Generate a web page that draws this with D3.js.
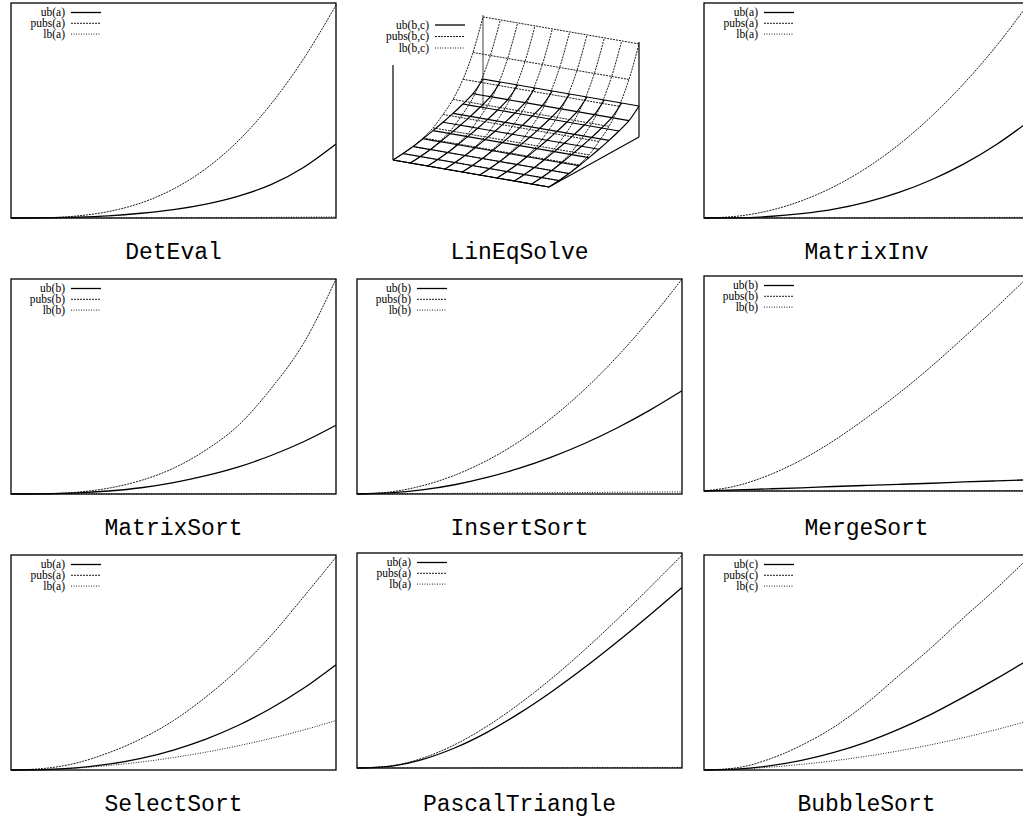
<!DOCTYPE html>
<html lang="en">
<head>
<meta charset="UTF-8">
<title>Cost bounds</title>
<script src="https://d3js.org/d3.v7.min.js"></script>
<style>
  body { margin: 0; background: #fff; }
  svg { display: block; }
  .title { font-family: "Liberation Mono", monospace; font-size: 23px; fill: #000; }
  .legend text { font-family: "Liberation Serif", serif; font-size: 11.5px; fill: #000; }
</style>
</head>
<body>
<svg width="1023" height="819"></svg>
<script>
// input sizes (x axis), same for every 2d panel
const sizes = [0, 1, 2, 3, 4, 5, 6, 7, 8, 9, 10];

// values in percent of each panel's y range
const detEvalUb   = [0, 0.1, 0.4, 1.0, 2.2, 3.9, 6.5, 10.2, 15.5, 23.5, 34.4];
const detEvalPubs = [0, 0.1, 0.9, 3.0, 7.0, 13.5, 23, 36, 53, 74, 99];
const detEvalLb   = [0, 0, 0, 0, 0.1, 0.1, 0.2, 0.2, 0.3, 0.4, 0.5];

const matrixInvUb   = [0, 0.1, 0.7, 2.0, 4.1, 7.4, 11.9, 17.8, 25.2, 34.2, 45];
const matrixInvPubs = [0, 0.8, 3.4, 8, 14.6, 23.3, 34.2, 47.3, 62.6, 80.1, 100];
const matrixInvLb   = [0, 0, 0, 0, 0.1, 0.1, 0.1, 0.2, 0.2, 0.3, 0.3];

const matrixSortUb   = [0, 0.1, 0.5, 1.4, 2.9, 5.3, 8.5, 12.6, 17.9, 24.3, 32];
const matrixSortPubs = [0, 0.1, 0.8, 2.7, 6.3, 12, 20.5, 32, 49, 70, 100];
const matrixSortLb   = [0, 0, 0, 0, 0, 0.1, 0.1, 0.1, 0.2, 0.2, 0.2];

const insertSortUb   = [0, 0.5, 1.9, 4.3, 7.7, 12, 17.3, 23.5, 30.7, 38.9, 48];
const insertSortPubs = [0, 0.9, 3.8, 8.7, 15.6, 24.5, 35.5, 48.6, 63.8, 81, 100];
const insertSortLb   = [0, 0.1, 0.2, 0.3, 0.4, 0.5, 0.6, 0.7, 0.8, 0.9, 1.0];

const mergeSortUb   = [0, 0.5, 1, 1.5, 2.1, 2.6, 3.1, 3.6, 4.2, 4.7, 5.2];
const mergeSortPubs = [0, 2.4, 7.4, 14.5, 23.5, 34, 45.5, 58, 71.5, 85.5, 100];
const mergeSortLb   = [0, 0, 0, 0, 0, 0.1, 0.1, 0.1, 0.1, 0.2, 0.2];

const selectSortUb   = [0, 0.2, 1.0, 2.7, 5.4, 9.3, 14.4, 20.8, 28.7, 38, 49];
const selectSortPubs = [0, 0.7, 3.2, 8, 14.5, 23, 34, 47, 62.5, 80.5, 99];
const selectSortLb   = [0, 0.2, 0.9, 2.1, 3.7, 5.8, 8.3, 11.3, 14.7, 18.6, 23];

const pascalUb   = [0, 0.8, 3.9, 9.3, 16.6, 25.5, 35.6, 46.7, 58.6, 71.1, 84];
const pascalPubs = [0, 0.9, 4.5, 10.8, 19.4, 29.9, 41.8, 54.9, 69, 83.8, 99];
const pascalLb   = [0, 0, 0, 0, 0.1, 0.1, 0.1, 0.2, 0.2, 0.2, 0.3];

const bubbleSortUb   = [0, 0.4, 1.9, 4.5, 8.2, 13, 19, 26, 34, 42.5, 51.5];
const bubbleSortPubs = [0, 1, 5, 11.5, 20, 31, 44, 57, 71, 84.5, 99];
const bubbleSortLb   = [0, 0.4, 1.3, 2.6, 4.3, 6.4, 8.9, 11.8, 15.1, 18.8, 22.9];

// LinEqSolve surface: height (percent of z range) per b sample, same for every c
const bSamples = [0, 1, 2, 3, 4, 5, 6, 7, 8, 9];
const cSamples = [0, 1, 2, 3, 4, 5, 6, 7, 8, 9];
const linEqUb   = [0, 1, 2.5, 4.8, 7.5, 10.5, 14, 18, 23, 32.6];
const linEqPubs = [0, 0.8, 2.5, 5.7, 10.4, 18.7, 28.7, 44, 66.4, 98];

const titles = ["DetEval", "LinEqSolve", "MatrixInv",
                "MatrixSort", "InsertSort", "MergeSort",
                "SelectSort", "PascalTriangle", "BubbleSort"];
const argNames = ["a", "b,c", "a", "b", "b", "b", "a", "a", "c"];

const panels = [
  { ub: detEvalUb, pubs: detEvalPubs, lb: detEvalLb },
  null,
  { ub: matrixInvUb, pubs: matrixInvPubs, lb: matrixInvLb },
  { ub: matrixSortUb, pubs: matrixSortPubs, lb: matrixSortLb },
  { ub: insertSortUb, pubs: insertSortPubs, lb: insertSortLb },
  { ub: mergeSortUb, pubs: mergeSortPubs, lb: mergeSortLb, dy: -3 },
  { ub: selectSortUb, pubs: selectSortPubs, lb: selectSortLb },
  { ub: pascalUb, pubs: pascalPubs, lb: pascalLb, dy: -2 },
  { ub: bubbleSortUb, pubs: bubbleSortPubs, lb: bubbleSortLb }
];

const colX = [11, 357, 704], rowY = [3, 279, 555];
const panelW = 325, panelH = 215;

const styles = {
  ub:   { width: 1.3, dash: null },
  pubs: { width: 0.9, dash: "2,1" },
  lb:   { width: 0.9, dash: "1,1.5" }
};

const svg = d3.select("svg");

function legend(g, x0, y0, step, arg) {
  const lg = g.append("g").attr("class", "legend");
  ["ub", "pubs", "lb"].forEach(function (k, i) {
    const yy = y0 + i * step;
    lg.append("text").attr("x", x0).attr("y", yy + 3.8)
      .attr("text-anchor", "end").text(k + "(" + arg + ")");
    lg.append("line").attr("x1", x0 + 6).attr("x2", x0 + 36)
      .attr("y1", yy).attr("y2", yy)
      .attr("stroke", "#000").attr("stroke-width", styles[k].width)
      .attr("stroke-dasharray", styles[k].dash);
  });
}

function drawPanel(g, p, arg) {
  const x = d3.scaleLinear().domain([0, 10]).range([0, panelW]);
  const y = d3.scaleLinear().domain([0, 100]).range([panelH, 0]);
  const line = d3.line()
    .x((d, i) => x(sizes[i]))
    .y(d => y(d))
    .curve(d3.curveMonotoneX);

  ["lb", "pubs", "ub"].forEach(function (k) {
    g.append("path").attr("d", line(p[k]))
      .attr("fill", "none").attr("stroke", "#000")
      .attr("stroke-width", styles[k].width)
      .attr("stroke-dasharray", styles[k].dash);
  });

  g.append("rect").attr("width", panelW).attr("height", panelH)
    .attr("fill", "none").attr("stroke", "#000").attr("stroke-width", 1.3);

  legend(g, 54, 9.5, 10.8, arg);
}

// 3d view of LinEqSolve
function drawSurface() {
  const g = svg.append("g");
  const o = [393, 160], vc = [156, 27], vb = [90, -50];
  const bS = d3.scaleLinear().domain([0, 9]).range([0, 1]);
  const cS = d3.scaleLinear().domain([0, 9]).range([0, 1]);
  const zS = d3.scaleLinear().domain([0, 100]).range([0, 95]);
  const proj = (b, c, z) => [o[0] + cS(c) * vc[0] + bS(b) * vb[0],
                             o[1] + cS(c) * vc[1] + bS(b) * vb[1] - zS(z)];

  const corner = (b, c) => proj(b, c, 0);
  const seg = (a, b2, col, w) => g.append("line")
    .attr("x1", a[0]).attr("y1", a[1]).attr("x2", b2[0]).attr("y2", b2[1])
    .attr("stroke", col).attr("stroke-width", w);

  // back vertical (behind everything)
  seg(corner(9, 0), proj(9, 0, 100), "#8a8a8a", 1.6);

  const curve = d3.line().curve(d3.curveCatmullRom.alpha(0.5));
  function surface(vals, st) {
    const draw = pts => g.append("path").attr("d", curve(pts))
      .attr("fill", "none").attr("stroke", "#000")
      .attr("stroke-width", st.width).attr("stroke-dasharray", st.dash);
    bSamples.forEach(b => draw(cSamples.map(c => proj(b, c, vals[b]))));
    cSamples.forEach(c => draw(bSamples.map(b => proj(b, c, vals[b]))));
  }
  surface(linEqPubs, styles.pubs);
  surface(linEqUb, { width: 1.2, dash: null });

  // base edges and front verticals
  seg(corner(0, 0), corner(0, 9), "#000", 1.1);
  seg(corner(0, 9), corner(9, 9), "#000", 1.1);
  seg(corner(0, 0), proj(0, 0, 100), "#000", 1.2);
  seg(corner(9, 9), proj(9, 9, 100), "#000", 1.2);

  legend(g, 429, 25, 11.5, argNames[1]);
}

panels.forEach(function (p, i) {
  const col = i % 3, row = Math.floor(i / 3);
  const cx = colX[col] + panelW / 2;
  svg.append("text").attr("class", "title")
    .attr("x", cx).attr("y", rowY[row] + 256)
    .attr("text-anchor", "middle").text(titles[i]);
  if (!p) return;
  const g = svg.append("g")
    .attr("transform", "translate(" + colX[col] + "," + (rowY[row] + (p.dy || 0)) + ")");
  drawPanel(g, p, argNames[i]);
});

drawSurface();
</script>
</body>
</html>
